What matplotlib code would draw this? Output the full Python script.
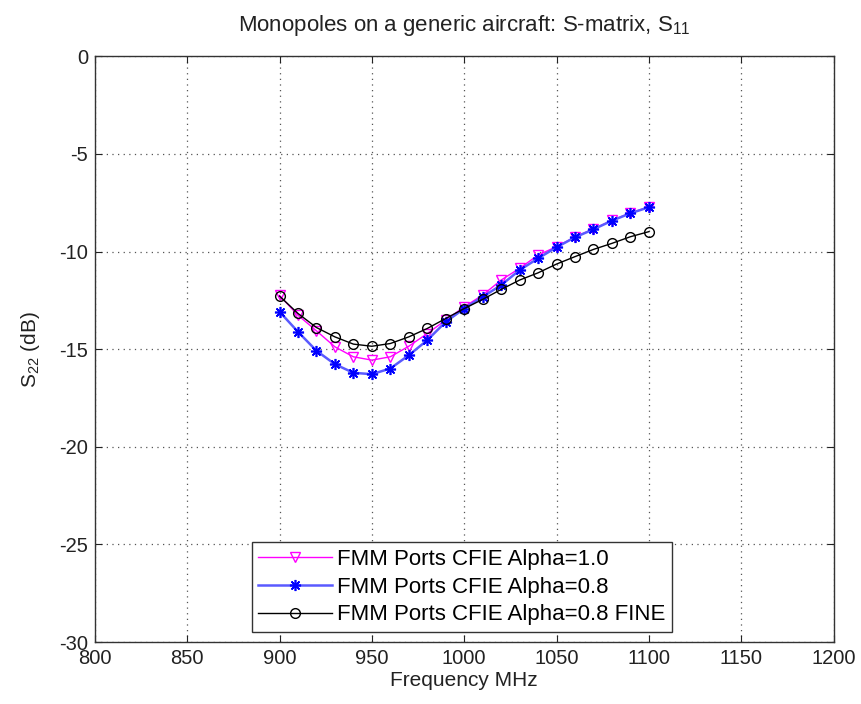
import matplotlib
matplotlib.use('Agg')
import matplotlib.pyplot as plt

plt.rcParams['font.family'] = ['Liberation Sans', 'DejaVu Sans']
plt.rcParams['mathtext.fontset'] = 'custom'
plt.rcParams['mathtext.rm'] = 'Liberation Sans'
plt.rcParams['mathtext.it'] = 'Liberation Sans'
plt.rcParams['axes.unicode_minus'] = False

# frequencies (MHz)
freq = [900, 910, 920, 930, 940, 950, 960, 970, 980, 990, 1000,
        1010, 1020, 1030, 1040, 1050, 1060, 1070, 1080, 1090, 1100]

# S22 (dB) for each run
alpha10 = [-12.25, -13.26, -14.06, -14.88, -15.39, -15.56, -15.39, -14.85, -14.20, -13.51, -12.83,
           -12.23, -11.46, -10.86, -10.18, -9.75, -9.25, -8.84, -8.40, -8.02, -7.72]
alpha08 = [-13.08, -14.11, -15.08, -15.77, -16.21, -16.28, -15.99, -15.31, -14.54, -13.60, -12.92,
           -12.32, -11.72, -10.95, -10.35, -9.78, -9.27, -8.86, -8.42, -8.04, -7.73]
alpha08_fine = [-12.28, -13.17, -13.89, -14.37, -14.74, -14.85, -14.71, -14.37, -13.94, -13.43, -12.92,
                -12.45, -11.94, -11.46, -11.09, -10.64, -10.26, -9.89, -9.58, -9.24, -8.98]

labels = ['FMM Ports CFIE Alpha=1.0',
          'FMM Ports CFIE Alpha=0.8',
          'FMM Ports CFIE Alpha=0.8 FINE']

fig = plt.figure(figsize=(8.62, 7.04), dpi=100)
ax = fig.add_axes([0.110, 0.088, 0.857, 0.832])

ax.plot(freq, alpha10, color='#ff00ff', marker='v', markersize=7,
        markerfacecolor='none', markeredgecolor='#ff00ff', linewidth=1, label=labels[0])
ax.plot(freq, alpha08, color='#5a5aff', marker=(8, 2, 0), markersize=8,
        markeredgecolor='#0000ff', markeredgewidth=1.2, linewidth=1.8, label=labels[1])
ax.plot(freq, alpha08_fine, color='black', marker='o', markersize=7,
        markerfacecolor='none', markeredgecolor='black', linewidth=1, label=labels[2])

ax.set_xlim(800, 1200)
ax.set_ylim(-30, 0)
ax.set_xticks(range(800, 1201, 50))
ax.set_yticks(range(-30, 1, 5))
ax.grid(True, linestyle=(0, (1, 3.5)), color='#555555', linewidth=0.9)
ax.tick_params(direction='in', top=True, right=True, labelsize=14.5, length=5,
               colors='#222222', pad=5)
for s in ax.spines.values():
    s.set_linewidth(1)
    s.set_color('#333333')

ax.set_xlabel('Frequency MHz', fontsize=15, color='#222222', labelpad=2)
ax.set_ylabel('S$_{22}$ (dB)', fontsize=15, color='#222222', labelpad=12)
ax.set_title('Monopoles on a generic aircraft: S-matrix, S$_{11}$', fontsize=16,
             color='#222222', pad=18)

leg = ax.legend(loc='lower left', bbox_to_anchor=(0.2125, 0.017), borderaxespad=0,
                fontsize=16, fancybox=False, edgecolor='#333333', framealpha=1,
                handlelength=3.3, handletextpad=0.25, borderpad=0.3,
                labelspacing=0.3, numpoints=1)
leg.get_frame().set_linewidth(1)

fig.savefig('out.png', dpi=100)
